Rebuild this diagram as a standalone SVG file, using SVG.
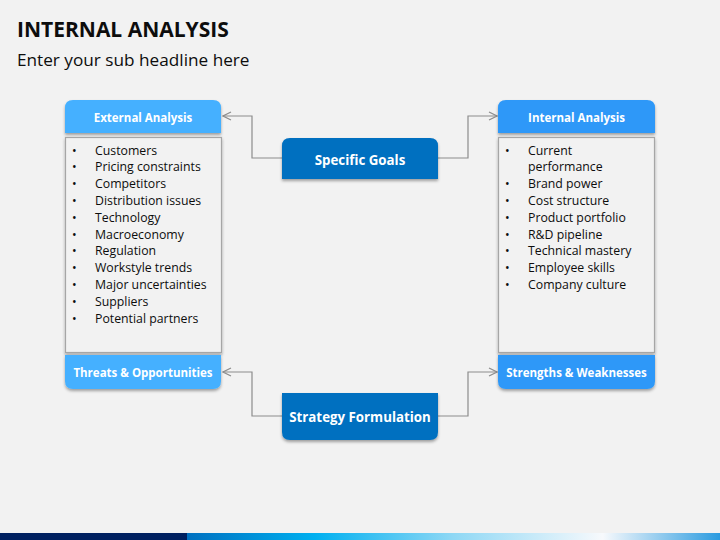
<svg xmlns="http://www.w3.org/2000/svg" width="720" height="540" viewBox="0 0 720 540">
<defs>
<style>
.title{font-family:"Open Sans","Liberation Sans",sans-serif;font-weight:bold;font-size:21px;fill:#0D0D0D}
.sub{font-family:"Open Sans","Liberation Sans",sans-serif;font-size:17.2px;fill:#0D0D0D}
.hdr{font-family:"Open Sans","Liberation Sans",sans-serif;font-weight:bold;font-size:11.5px;fill:#FFFFFF}
.ctr{font-family:"Open Sans","Liberation Sans",sans-serif;font-weight:bold;font-size:13.3px;fill:#FFFFFF}
.li{font-family:"Open Sans","Liberation Sans",sans-serif;font-size:12.3px;fill:#0D0D0D}
.list{fill:#F2F2F2;stroke:#A6A6A6;stroke-width:1.2}
.conn{fill:none;stroke:#8C8C8C;stroke-width:1.2}
</style>
<filter id="sh" x="-10%" y="-20%" width="120%" height="150%">
<feDropShadow dx="0" dy="2" stdDeviation="1.5" flood-color="#000" flood-opacity="0.35"/>
</filter>
<marker id="arr" markerWidth="10" markerHeight="10" refX="9" refY="5" orient="auto" markerUnits="userSpaceOnUse">
<path d="M1,1 L9,5 L1,9" fill="none" stroke="#8C8C8C" stroke-width="1.2"/>
</marker>
<linearGradient id="bar" gradientUnits="userSpaceOnUse" x1="187" y1="0" x2="720" y2="0">
<stop offset="0" stop-color="#0070C0"/>
<stop offset="0.24" stop-color="#00B0F0"/>
<stop offset="0.5" stop-color="#8FD8F5"/>
<stop offset="0.78" stop-color="#F7F9FC"/>
<stop offset="1" stop-color="#2A9BE0"/>
</linearGradient>
</defs>
<rect width="720" height="540" fill="#F2F2F2"/>
<text class="title" x="17" y="37">INTERNAL ANALYSIS</text>
<text class="sub" x="17" y="66">Enter your sub headline here</text>

<g id="connectors">
<polyline class="conn" points="282,158 252,158 252,116 223,116" marker-end="url(#arr)"/>
<polyline class="conn" points="438,158 468,158 468,116 497,116" marker-end="url(#arr)"/>
<polyline class="conn" points="282,416 252,416 252,372 223,372" marker-end="url(#arr)"/>
<polyline class="conn" points="438,416 468,416 468,372 497,372" marker-end="url(#arr)"/>
</g>

<g id="external-analysis">
<path d="M65,133 V108 Q65,100 73,100 H213 Q221,100 221,108 V133 Z" fill="#45B0FF" filter="url(#sh)"/>
<text class="hdr" x="143" y="122" text-anchor="middle">External Analysis</text>
</g>
<g id="external-list">
<rect class="list" x="65.5" y="137.5" width="156" height="215" filter="url(#sh)"/>
<g class="li">
<text x="72" y="154.5">•</text><text x="95" y="154.5">Customers</text>
<text x="72" y="171.3">•</text><text x="95" y="171.3">Pricing constraints</text>
<text x="72" y="188.1">•</text><text x="95" y="188.1">Competitors</text>
<text x="72" y="204.9">•</text><text x="95" y="204.9">Distribution issues</text>
<text x="72" y="221.7">•</text><text x="95" y="221.7">Technology</text>
<text x="72" y="238.5">•</text><text x="95" y="238.5">Macroeconomy</text>
<text x="72" y="255.3">•</text><text x="95" y="255.3">Regulation</text>
<text x="72" y="272.1">•</text><text x="95" y="272.1">Workstyle trends</text>
<text x="72" y="288.9">•</text><text x="95" y="288.9">Major uncertainties</text>
<text x="72" y="305.7">•</text><text x="95" y="305.7">Suppliers</text>
<text x="72" y="322.5">•</text><text x="95" y="322.5">Potential partners</text>
</g>
</g>
<g id="threats-opportunities">
<path d="M65,355 H221 V381 Q221,389 213,389 H73 Q65,389 65,381 Z" fill="#45B0FF" filter="url(#sh)"/>
<text class="hdr" x="143" y="376.5" text-anchor="middle">Threats &amp; Opportunities</text>
</g>

<g id="internal-analysis">
<path d="M498,133 V108 Q498,100 506,100 H647 Q655,100 655,108 V133 Z" fill="#2E98F8" filter="url(#sh)"/>
<text class="hdr" x="576.5" y="122" text-anchor="middle">Internal Analysis</text>
</g>
<g id="internal-list">
<rect class="list" x="498.5" y="137.5" width="156" height="215" filter="url(#sh)"/>
<g class="li">
<text x="505" y="154.5">•</text><text x="528" y="154.5">Current</text>
<text x="528" y="171.3">performance</text>
<text x="505" y="188.1">•</text><text x="528" y="188.1">Brand power</text>
<text x="505" y="204.9">•</text><text x="528" y="204.9">Cost structure</text>
<text x="505" y="221.7">•</text><text x="528" y="221.7">Product portfolio</text>
<text x="505" y="238.5">•</text><text x="528" y="238.5">R&amp;D pipeline</text>
<text x="505" y="255.3">•</text><text x="528" y="255.3">Technical mastery</text>
<text x="505" y="272.1">•</text><text x="528" y="272.1">Employee skills</text>
<text x="505" y="288.9">•</text><text x="528" y="288.9">Company culture</text>
</g>
</g>
<g id="strengths-weaknesses">
<path d="M498,355 H655 V381 Q655,389 647,389 H506 Q498,389 498,381 Z" fill="#2E98F8" filter="url(#sh)"/>
<text class="hdr" x="576.5" y="376.5" text-anchor="middle">Strengths &amp; Weaknesses</text>
</g>

<g id="specific-goals">
<path d="M282,179 V146 Q282,138 290,138 H430 Q438,138 438,146 V179 Z" fill="#0070C0" filter="url(#sh)"/>
<text class="ctr" x="360" y="164.5" text-anchor="middle">Specific Goals</text>
</g>
<g id="strategy-formulation">
<path d="M282,393 H438 V432 Q438,440 430,440 H290 Q282,440 282,432 Z" fill="#0070C0" filter="url(#sh)"/>
<text class="ctr" x="360" y="421.5" text-anchor="middle">Strategy Formulation</text>
</g>

<rect x="0" y="533" width="720" height="7" fill="url(#bar)"/>
<rect x="0" y="533" width="187" height="7" fill="#002060"/>
</svg>
